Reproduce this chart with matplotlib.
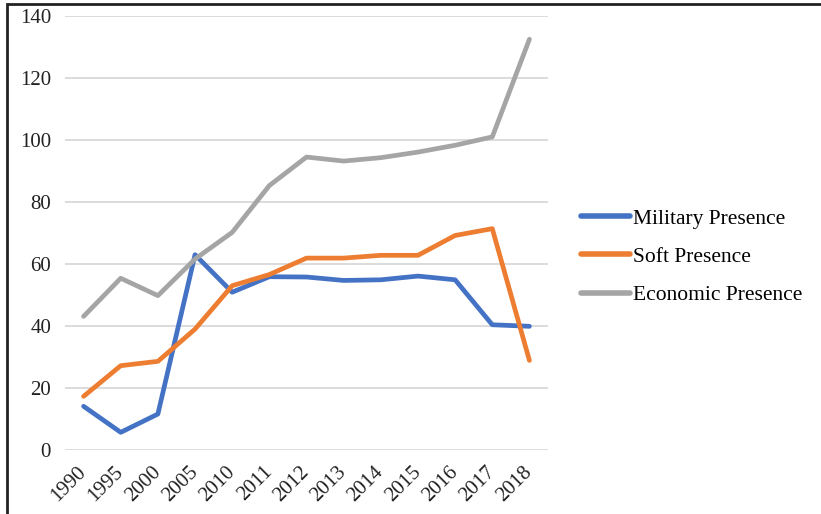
import matplotlib
matplotlib.use("Agg")
import matplotlib.pyplot as plt
from matplotlib.patches import Rectangle

years = ["1990", "1995", "2000", "2005", "2010", "2011", "2012", "2013",
         "2014", "2015", "2016", "2017", "2018"]
military = [14.1, 5.7, 11.6, 63, 50.9, 55.9, 55.8, 54.7, 54.9, 56.1, 54.9, 40.4, 39.9]
soft = [17.3, 27.2, 28.6, 39, 53, 56.6, 61.9, 61.9, 62.8, 62.8, 69.2, 71.4, 28.9]
economic = [43.1, 55.4, 49.8, 61.6, 70.2, 85.3, 94.5, 93.2, 94.3, 96.1, 98.3, 101, 132.5]

plt.rcParams['font.family'] = ['Liberation Serif', 'DejaVu Serif']

fig = plt.figure(figsize=(8.21, 5.14), dpi=100)
ax = fig.add_axes([65/821, 1-450/514, (548-65)/821, (450-16)/514])

x = range(len(years))
ax.plot(x, military, color='#4472C4', lw=3.4, solid_capstyle='round', label='Military Presence')
ax.plot(x, soft, color='#ED7D31', lw=3.4, solid_capstyle='round', label='Soft Presence')
ax.plot(x, economic, color='#A5A5A5', lw=3.4, solid_capstyle='round', label='Economic Presence')

ax.set_ylim(0, 140)
ax.set_xlim(-0.5, len(years)-0.5)
ax.set_yticks(range(0, 141, 20))
ax.set_xticks(list(x))
ax.set_xticklabels(years, rotation=45, ha='right', va='center', rotation_mode='anchor')
ax.tick_params(length=0, labelsize=15, colors='#222222')
ax.tick_params(axis='y', pad=10)
ax.tick_params(axis='x', pad=14)
ax.grid(axis='y', color='#D9D9D9', lw=1.3)
ax.set_axisbelow(True)
for s in ax.spines.values():
    s.set_visible(False)

leg = fig.legend(loc='center left', bbox_to_anchor=(562/821, 1-257/514), frameon=False,
                 fontsize=15.5, handlelength=2.25, handletextpad=0.15, labelspacing=0.85)
for line in leg.get_lines():
    line.set_linewidth(4)

# partial frame around the figure
fig.add_artist(Rectangle((7/821, -0.1), 1.2, 1-4/514+0.1, transform=fig.transFigure,
                         fill=False, edgecolor='#222222', lw=2))

plt.savefig("out.png", dpi=100)
